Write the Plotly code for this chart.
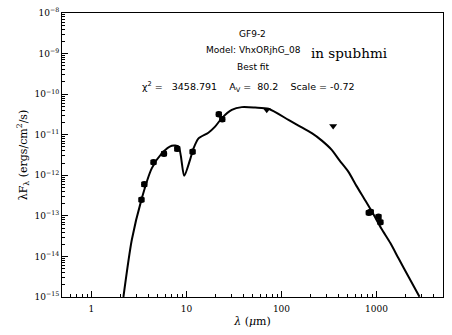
import plotly.graph_objects as go

# observed fluxes (microns, ergs/cm2/s)
wav_det = [3.36, 3.6, 4.5, 5.8, 8.0, 11.6, 21.9, 23.8, 830, 870, 1050, 1100]
flux_det = [2.5e-13, 6.0e-13, 2.1e-12, 3.4e-12, 4.5e-12, 3.8e-12, 3.2e-11, 2.4e-11,
            1.2e-13, 1.25e-13, 9.5e-14, 7.0e-14]

# upper limits
wav_lim = [70, 350]
flux_lim = [4.1e-11, 1.65e-11]

# best fit model SED
wav_mod = [2.17, 2.66, 3.36, 4.31, 5.5, 7.0, 8.24, 9.46, 10.9, 11.9, 13.4, 17.0, 20.0, 23.6,
           30, 38.2, 52.8, 73, 118.5, 151, 208.5, 264, 338, 408, 507, 615, 766, 929, 1129,
           1404, 1705, 2174, 2836]
logf_mod = [-15.0, -13.59, -12.6, -11.83, -11.46, -11.27, -11.29, -12.01, -11.62, -11.33,
            -11.09, -10.95, -10.80, -10.59, -10.39, -10.32, -10.33, -10.36, -10.635, -10.776,
            -10.963, -11.14, -11.374, -11.633, -11.916, -12.261, -12.63, -12.963, -13.32,
            -13.677, -14.047, -14.50, -14.995]
flux_mod = [10 ** v for v in logf_mod]

yticks = [1e-15, 1e-14, 1e-13, 1e-12, 1e-11, 1e-10, 1e-9, 1e-8]
ytext = ["10<sup>\u221215</sup>", "10<sup>\u221214</sup>", "10<sup>\u221213</sup>",
         "10<sup>\u221212</sup>", "10<sup>\u221211</sup>", "10<sup>\u221210</sup>",
         "10<sup>\u22129</sup>", "10<sup>\u22128</sup>"]
xticks = [1, 10, 100, 1000]
xtext = ["1", "10", "100", "1000"]

xminor = [m * 10 ** e for e in range(-1, 4) for m in range(2, 10) if 0.5 <= m * 10 ** e <= 5000]
yminor = [m * 10.0 ** e for e in range(-15, -8) for m in range(2, 10)]

fig = go.Figure()
fig.add_trace(go.Scatter(x=wav_mod, y=flux_mod, mode="lines",
                         line=dict(color="black", width=2, shape="spline", smoothing=0.7),
                         showlegend=False))
fig.add_trace(go.Scatter(x=wav_det, y=flux_det, mode="markers",
                         marker=dict(symbol="circle", size=6.5, color="black"),
                         error_y=dict(type="percent", value=10, color="black", thickness=1.5, width=3),
                         showlegend=False))
fig.add_trace(go.Scatter(x=wav_lim, y=flux_lim, mode="markers",
                         marker=dict(symbol="triangle-down", size=7, color="black"),
                         showlegend=False))

serif = "DejaVu Serif"
sans = "DejaVu Sans"
fig.add_annotation(x=0.5, y=0.95, xref="paper", yref="paper", text="GF9-2", showarrow=False,
                   font=dict(family=sans, size=9, color="black"))
fig.add_annotation(x=0.632, y=0.893, xref="paper", yref="paper", text="Model: VhxORjhG_08",
                   showarrow=False, xanchor="right", font=dict(family=sans, size=9, color="black"))
fig.add_annotation(x=0.648, y=0.893, xref="paper", yref="paper", text="in spubhmi",
                   showarrow=False, xanchor="left", font=dict(family=serif, size=13.5, color="black"))
fig.add_annotation(x=0.5, y=0.833, xref="paper", yref="paper", text="Best fit", showarrow=False,
                   font=dict(family=sans, size=9, color="black"))
fig.add_annotation(x=0.49, y=0.77, xref="paper", yref="paper",
                   text="\u03c7<sup>2</sup> =   3458.791    A<sub>V</sub> =  80.2    Scale = -0.72",
                   showarrow=False, font=dict(family=sans, size=9.5, color="black"))

fig.update_xaxes(type="log", range=[-0.31, 3.7], tickvals=xticks, ticktext=xtext,
                 ticks="inside", ticklen=6, tickcolor="black", automargin=False,
                 ticklabelstandoff=3,
                 minor=dict(tickvals=xminor, ticks="inside", ticklen=3, tickcolor="black"),
                 showline=True, linecolor="black", linewidth=1, mirror=True, showgrid=False,
                 zeroline=False, tickfont=dict(family=serif, size=9, color="black"),
                 title=dict(text="<i>\u03bb</i> (<i>\u03bc</i>m)", standoff=4,
                            font=dict(family=serif, size=11, color="black")))
fig.update_yaxes(type="log", range=[-15, -8], tickvals=yticks, ticktext=ytext,
                 ticks="inside", ticklen=6, tickcolor="black", automargin=False,
                 minor=dict(tickvals=yminor, ticks="inside", ticklen=3, tickcolor="black"),
                 showline=True, linecolor="black", linewidth=1, mirror=True, showgrid=False,
                 zeroline=False, tickfont=dict(family=serif, size=9, color="black"),
                 title=dict(text="\u03bbF<sub>\u03bb</sub> (ergs/cm<sup>2</sup>/s)", standoff=4,
                            font=dict(family=serif, size=11, color="black")))

fig.update_layout(width=452, height=335, margin=dict(l=62, r=9, t=13, b=38),
                  plot_bgcolor="white", paper_bgcolor="white")

# drop the browser's default page margin so the figure sits at the window corner
fig.write_html("out.html", config={"displayModeBar": False},
               post_script="document.body.style.margin='0px';")
